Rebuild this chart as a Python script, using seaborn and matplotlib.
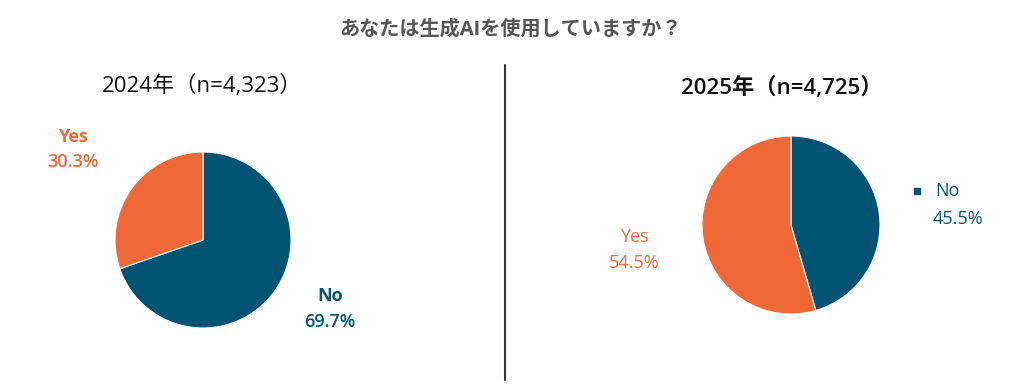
# importing libraries
import seaborn as sns
import matplotlib.pyplot as plt

# data
answers_2024 = ['No', 'Yes']
share_2024 = [69.7, 30.3]
answers_2025 = ['No', 'Yes']
share_2025 = [45.5, 54.5]
title = 'あなたは生成AIを使用していますか？'
sub_2024 = '2024年（n=4,323）'
sub_2025 = '2025年（n=4,725）'

colors = {'No': '#005373', 'Yes': '#F06838'}

sns.set_theme(style='white')
plt.rcParams['font.family'] = ['Open Sans', 'Noto Sans CJK JP', 'DejaVu Sans']

fig = plt.figure(figsize=(10.24, 3.87), dpi=100)
W, H = 1024, 387

fig.text(510 / W, 1 - 30 / H, title, ha='center', va='center',
         fontsize=14.5, fontweight='bold', color='#555555')
fig.text(202 / W, 1 - 86 / H, sub_2024, ha='center', va='center',
         fontsize=16, color='#111111')
fig.text(782 / W, 1 - 88 / H, sub_2025, ha='center', va='center',
         fontsize=16, fontweight='semibold', color='#111111')

# divider
fig.add_artist(plt.Line2D([505 / W, 505 / W], [1 - 380 / H, 1 - 65 / H],
                          color='#333333', linewidth=1.5))

lab = dict(ha='center', va='center', fontsize=13, clip_on=False)

# left pie
ax1 = fig.add_axes([115 / W, 59 / H, 176 / W, 176 / H])
ax1.pie(share_2024, colors=[colors[a] for a in answers_2024],
        startangle=90, counterclock=False, wedgeprops={'linewidth': 0.8})
ax1.set_xlim(-1, 1)
ax1.set_ylim(-1, 1)
ax1.text(-1.48, 1.17, 'Yes', fontweight='bold', color=colors['Yes'], **lab)
ax1.text(-1.48, 0.89, f'{share_2024[1]}%', fontweight='semibold',
         color=colors['Yes'], **lab)
ax1.text(1.44, -0.64, 'No', fontweight='bold', color=colors['No'], **lab)
ax1.text(1.44, -0.93, f'{share_2024[0]}%', fontweight='semibold',
         color=colors['No'], **lab)

# right pie
ax2 = fig.add_axes([702 / W, 73 / H, 178 / W, 178 / H])
ax2.pie(share_2025, colors=[colors[a] for a in answers_2025],
        startangle=90, counterclock=False, wedgeprops={'linewidth': 0.8})
ax2.set_xlim(-1, 1)
ax2.set_ylim(-1, 1)
ax2.plot([1.42], [0.38], marker='s', markersize=5, color=colors['No'],
         clip_on=False)
ax2.text(1.76, 0.38, 'No', color=colors['No'], **lab)
ax2.text(1.88, 0.07, f'{share_2025[0]}%', color=colors['No'], **lab)
ax2.text(-1.76, -0.13, 'Yes', color=colors['Yes'], **lab)
ax2.text(-1.76, -0.43, f'{share_2025[1]}%', color=colors['Yes'], **lab)

fig.savefig('out.png', dpi=100)
